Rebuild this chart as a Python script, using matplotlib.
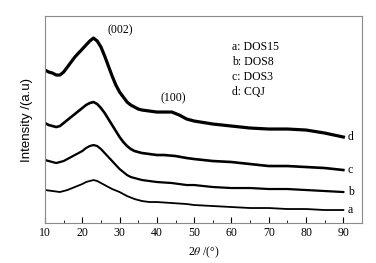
import matplotlib
matplotlib.use("Agg")
import matplotlib.pyplot as plt
from matplotlib.ticker import MultipleLocator

plt.rcParams['font.family'] = ['Liberation Serif', 'DejaVu Serif']
plt.rcParams['mathtext.fontset'] = 'stix'

# Read-off profiles (2theta in degrees, intensity in arbitrary units, curves offset)
x_d = [10, 11, 12, 13, 14, 15, 16, 17, 18, 19, 20, 21, 22, 23, 24, 25, 26, 27, 28, 29, 30,
       31, 32, 33, 34, 35, 36, 38, 40, 42, 44, 46, 48, 50, 55, 60, 65, 70, 75, 80, 85, 90]
y_d = [153, 151, 150, 148, 148, 151, 156, 161, 166, 170, 174, 178, 182, 185, 182, 176, 167,
       157, 147, 138, 131, 126, 121, 118, 116, 114, 113, 112, 111, 111, 111, 108, 104, 102,
       99, 97, 95, 94, 94, 93, 90, 86]

x_c = [10, 11, 12, 13, 14, 15, 16, 17, 18, 19, 20, 21, 22, 23, 24, 25, 26, 27, 28, 29, 30,
       31, 32, 33, 34, 36, 38, 40, 42, 45, 48, 50, 55, 60, 65, 70, 75, 80, 85, 90]
y_c = [100, 98, 97, 96, 97, 100, 103, 106, 109, 112, 115, 118, 120, 121, 119, 115, 110,
       104, 98, 92, 86, 81, 77, 74, 72, 70, 69, 68, 68, 67, 65, 64, 62, 61, 59, 57, 57, 56,
       55, 53]

x_b = [10, 11, 12, 13, 14, 15, 16, 17, 18, 19, 20, 21, 22, 23, 24, 25, 26, 27, 28, 29, 30,
       31, 32, 33, 34, 36, 38, 40, 44, 48, 50, 55, 60, 65, 70, 75, 80, 85, 90]
y_b = [63, 62, 61, 60, 61, 62, 64, 66, 68, 70, 72, 75, 77, 78, 77, 74, 70, 66, 62, 58, 54,
       51, 48, 46, 45, 43, 42, 41, 40, 38, 38, 36, 35, 35, 34, 34, 33, 32, 31]

x_a = [10, 12, 14, 16, 18, 20, 21, 22, 23, 24, 25, 26, 27, 28, 30, 32, 34, 36, 38, 40, 44,
       48, 50, 55, 60, 65, 70, 75, 80, 85, 90]
y_a = [33, 32, 31, 33, 36, 39, 41, 42, 43, 42, 40, 38, 36, 34, 31, 27, 24, 22, 21, 21, 20,
       19, 18, 17, 16, 15, 15, 14, 14, 13, 13]

curve_labels = ['a', 'b', 'c', 'd']
legend_lines = ['a: DOS15', 'b: DOS8', 'c: DOS3', 'd: CQJ']
peak_labels = ['(002)', '(100)']
peak_pos = [(30.3, 193), (44.4, 125)]

fig = plt.figure(figsize=(3.76, 2.63), dpi=100)
ax = fig.add_axes([0.1197, 0.152, 0.843, 0.787])

series = [(x_a, y_a, 1.3), (x_b, y_b, 1.6), (x_c, y_c, 1.9), (x_d, y_d, 2.3)]
for (xs, ys, lw), lab in zip(series, curve_labels):
    ax.plot(xs, ys, color='black', lw=lw, solid_joinstyle='round')
    ax.text(91.2, ys[-1], lab, fontsize=8.5, va='center', ha='left')

for t, (px, py) in zip(peak_labels, peak_pos):
    ax.text(px, py, t, fontsize=8.5, ha='center', va='center')

for i, t in enumerate(legend_lines):
    ax.text(60.1, 176 - 15 * i, t, fontsize=8.5, ha='left', va='center')

ax.set_xlim(10, 95)
ax.set_ylim(0, 207)
ax.xaxis.set_major_locator(MultipleLocator(10))
ax.xaxis.set_minor_locator(MultipleLocator(5))
ax.set_xticks(range(10, 91, 10))
ax.tick_params(axis='x', which='major', direction='in', length=4, width=0.8,
               labelsize=8.5, pad=3, colors='black')
ax.tick_params(axis='x', which='minor', direction='in', length=2.5, width=0.6)
ax.set_yticks([])
for s in ax.spines.values():
    s.set_color('#8a8a8a')
    s.set_linewidth(0.8)

ax.set_xlabel(r'2$\theta$ /(°)', fontsize=8.5, labelpad=4)
ax.set_ylabel('Intensity /(a.u)', fontsize=9.5, labelpad=9,
              family=['Liberation Sans Narrow', 'Liberation Sans', 'DejaVu Sans'])

fig.savefig('out.png', dpi=100)
